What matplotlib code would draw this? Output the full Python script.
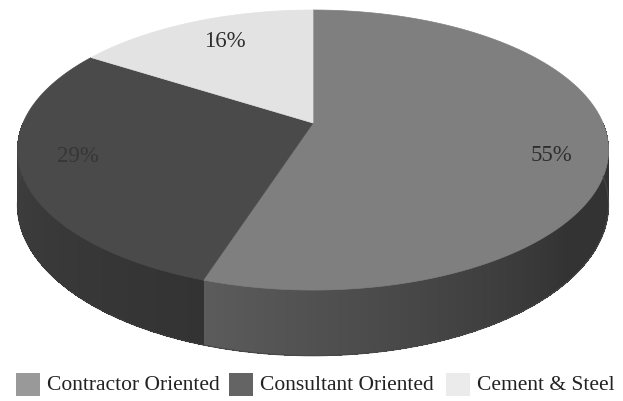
import numpy as np
import matplotlib
matplotlib.use("Agg")
import matplotlib.pyplot as plt
from matplotlib.patches import Polygon, Rectangle
from matplotlib.collections import PolyCollection

# Data
categories = ["Contractor Oriented", "Consultant Oriented", "Cement & Steel"]
shares = [55, 29, 16]
labels = ["55%", "29%", "16%"]

# Styles
top_colors = ["#7f7f7f", "#4a4a4a", "#e3e3e3"]
legend_colors = ["#999999", "#646464", "#ebebeb"]
side_shades = [(0.36, 0.20), (0.20, 0.27), (0.80, 0.80)]  # gray level at slice start/end (front)
label_colors = ["#2e2e2e", "#363636", "#2e2e2e"]
label_nudge = [(4, 15), (-5, -5), (10, 2)]

W, H = 623, 401
fig = plt.figure(figsize=(W / 100, H / 100), dpi=100)
ax = fig.add_axes([0, 0, 1, 1])
ax.set_xlim(0, W)
ax.set_ylim(H, 0)
ax.axis("off")

# Perspective projection of the pie disc
CX, CY = 313.0, 123.0
RX, RY = 290.0, 134.8
PERSP = 0.193
DEPTH = 53.0


def proj(theta_deg, r=1.0, drop=0.0):
    th = np.radians(theta_deg)
    u = r * np.sin(th)
    v = r * np.cos(th)
    w = 1 + PERSP * v
    x = CX + RX * u / w
    y = CY - RY * v / w + drop / w
    return x, y


total = float(sum(shares))
bounds = np.concatenate([[0], np.cumsum(shares)]) / total * 360.0

# Side walls (front half only)
for i in range(len(shares)):
    a0, a1 = bounds[i], bounds[i + 1]
    lo, hi = max(a0, 90.0), min(a1, 270.0)
    if lo >= hi:
        continue
    ts = np.linspace(lo, hi, int((hi - lo) * 3) + 2)
    quads, cols = [], []
    g0, g1 = side_shades[i]
    for t0, t1 in zip(ts[:-1], ts[1:]):
        p0 = proj(t0)
        p1 = proj(t1 + 0.15)
        q1 = proj(t1 + 0.15, drop=DEPTH)
        q0 = proj(t0, drop=DEPTH)
        quads.append([p0, p1, q1, q0])
        tm = (t0 + t1) / 2
        if i == 0:
            # light near the lower-left edge, darker towards the right
            f = (a1 - tm) / (a1 - 90)
            g = g0 + (g1 - g0) * min(1.0, f * 1.6)
        else:
            f = (tm - a0) / (a1 - a0)
            g = g0 + (g1 - g0) * f
        cols.append((g, g, g))
    pc = PolyCollection(quads, facecolors=cols, edgecolors="none",
                        antialiaseds=False)
    ax.add_collection(pc)
    # smooth outer outline of the wall
    tt = np.linspace(lo, hi, 200)
    bx, by = proj(tt, drop=DEPTH)
    ax.plot(bx, by, color=(g0 * 0.5 + g1 * 0.5,) * 3, lw=0.8, solid_capstyle="butt")

# Top faces
for i in range(len(shares)):
    a0, a1 = bounds[i], bounds[i + 1]
    ts = np.linspace(a0, a1, int((a1 - a0) * 2) + 2)
    pts = [proj(0, r=0.0)] + [proj(t) for t in ts]
    ax.add_patch(Polygon(pts, closed=True, facecolor=top_colors[i],
                         edgecolor=top_colors[i], linewidth=0.5))

# Percentage labels
for i in range(len(shares)):
    mid = (bounds[i] + bounds[i + 1]) / 2
    x, y = proj(mid, r=0.8)
    dx, dy = label_nudge[i]
    ax.text(x + dx, y + dy, labels[i], ha="center", va="center",
            fontsize=16.5, family="Liberation Serif", color=label_colors[i])

# Legend
leg_x = [16, 229, 446]
for i, name in enumerate(categories):
    ax.add_patch(Rectangle((leg_x[i], 373), 24, 23, facecolor=legend_colors[i],
                           edgecolor="none"))
    ax.text(leg_x[i] + 31, 386, name, ha="left", va="center",
            fontsize=15.5, family="Liberation Serif", color="#222222")

fig.savefig("out.png", dpi=100, facecolor="white")
